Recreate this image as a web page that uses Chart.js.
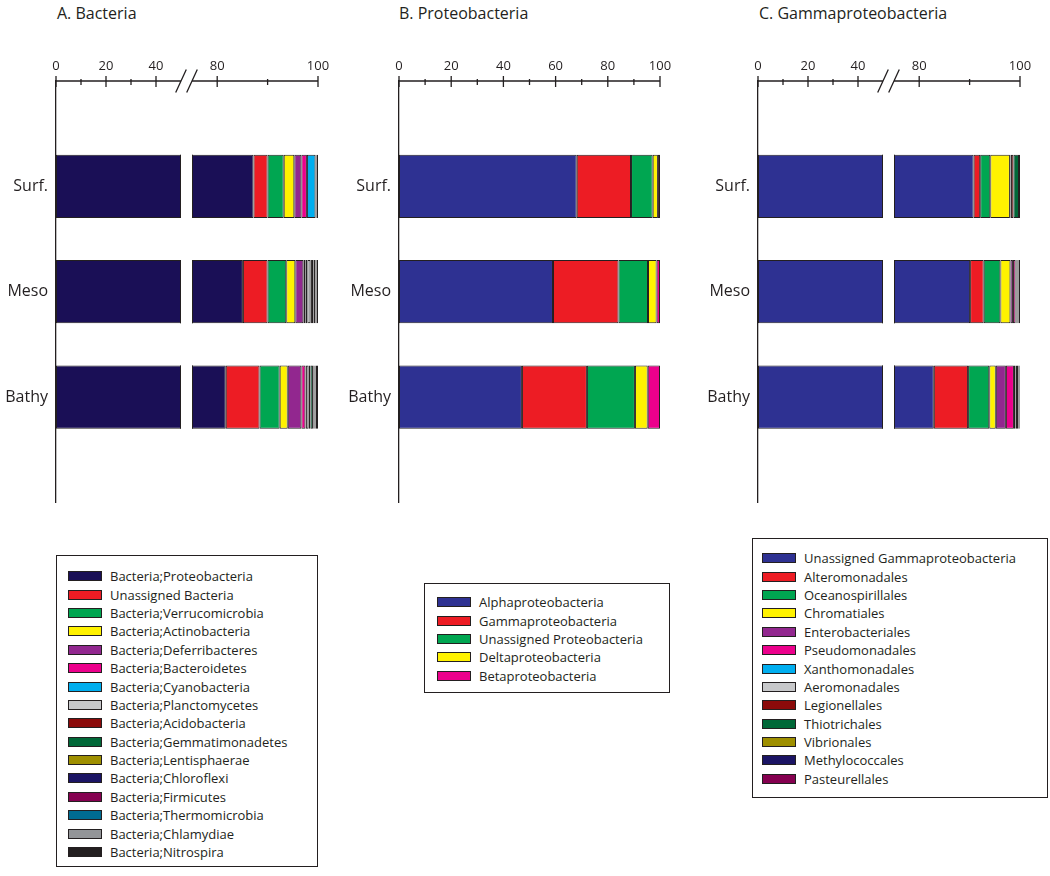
<!DOCTYPE html>
<html>
<head>
<meta charset="utf-8">
<script src="https://cdn.jsdelivr.net/npm/chart.js@4.4.0/dist/chart.umd.min.js"></script>
<style>
  body { margin: 0; background: #fff; font-family: "Open Sans", sans-serif; color: #231f20; }
  #page { position: relative; width: 1050px; height: 876px; overflow: hidden; }
  .title { position: absolute; top: 3px; font-size: 16px; line-height: 20px; white-space: nowrap; }
  canvas { position: absolute; top: 0; }
  .legend { position: absolute; border: 1.3px solid #231f20; box-sizing: border-box; }
  .legend .row { display: flex; align-items: center; height: 18.4px; font-size: 13px; white-space: nowrap; }
  .legend .sw { width: 34px; height: 10px; border: 1px solid #231f20; box-sizing: border-box; margin-right: 8px; flex: none; }
</style>
</head>
<body>
<div id="page">
  <div class="title" style="left:57px">A. Bacteria</div>
  <div class="title" style="left:399px">B. Proteobacteria</div>
  <div class="title" style="left:759px">C. Gammaproteobacteria</div>

  <canvas id="chartA" width="340" height="520" style="left:0px"></canvas>
  <canvas id="chartB" width="360" height="520" style="left:340px"></canvas>
  <canvas id="chartC" width="350" height="520" style="left:700px"></canvas>

  <div class="legend" id="legendA" style="left:56px;top:555px;width:262px;height:312px;padding:11px 0 0 11px"></div>
  <div class="legend" id="legendB" style="left:424px;top:583px;width:246px;height:110px;padding:9px 0 0 12px"></div>
  <div class="legend" id="legendC" style="left:752px;top:538px;width:296px;height:260px;padding:10px 0 0 9px"></div>
</div>

<script>
// depth layers (first and last slot are empty so the bars sit like the original)
const depths = ['', 'Surf.', 'Meso', 'Bathy', ''];

// ticks
const brokenTicks = [0, 10, 20, 30, 40, 80, 90, 100];
const brokenLabels = [0, 20, 40, 80, 100];
const plainTicks = [0, 10, 20, 30, 40, 50, 60, 70, 80, 90, 100];
const plainLabels = [0, 20, 40, 60, 80, 100];

// A. Bacteria (% of reads)
const bacteriaTaxa = ['Bacteria;Proteobacteria', 'Unassigned Bacteria', 'Bacteria;Verrucomicrobia',
  'Bacteria;Actinobacteria', 'Bacteria;Deferribacteres', 'Bacteria;Bacteroidetes', 'Bacteria;Cyanobacteria',
  'Bacteria;Planctomycetes', 'Bacteria;Acidobacteria', 'Bacteria;Gemmatimonadetes', 'Bacteria;Lentisphaerae',
  'Bacteria;Chloroflexi', 'Bacteria;Firmicutes', 'Bacteria;Thermomicrobia', 'Bacteria;Chlamydiae', 'Bacteria;Nitrospira'];
const bacteriaSurf  = [87.2, 2.8, 3.2, 2.1, 1.4, 1.1, 1.7, 0.1, 0.1, 0.1, 0, 0, 0, 0, 0, 0.2];
const bacteriaMeso  = [85.1, 4.9, 3.7, 1.8, 1.6, 0.4, 0.4, 0.6, 0.3, 0.3, 0.1, 0.2, 0.1, 0.1, 0.1, 0.3];
const bacteriaBathy = [81.7, 6.7, 4.0, 1.6, 2.7, 0.8, 0.1, 0.5, 0.4, 0.5, 0.1, 0.2, 0.1, 0.1, 0.1, 0.4];
const bacteriaColors = ['#1a0f56', '#ed1c24', '#00a651', '#fff200', '#92278f', '#ec008c', '#00aeef',
  '#c7c8ca', '#8b0a0a', '#006838', '#9e8f00', '#1b1464', '#850050', '#006c91', '#939598', '#231f20'];

// B. Proteobacteria
const proteoTaxa = ['Alphaproteobacteria', 'Gammaproteobacteria', 'Unassigned Proteobacteria',
  'Deltaproteobacteria', 'Betaproteobacteria'];
const proteoSurf  = [68.1, 20.8, 8.3, 2.0, 0.8];
const proteoMeso  = [59.0, 25.1, 11.3, 3.3, 1.3];
const proteoBathy = [47.1, 24.9, 18.4, 4.9, 4.7];
const proteoColors = ['#2e3192', '#ed1c24', '#00a651', '#fff200', '#ec008c'];

// C. Gammaproteobacteria
const gammaTaxa = ['Unassigned Gammaproteobacteria', 'Alteromonadales', 'Oceanospirillales', 'Chromatiales',
  'Enterobacteriales', 'Pseudomonadales', 'Xanthomonadales', 'Aeromonadales', 'Legionellales',
  'Thiotrichales', 'Vibrionales', 'Methylococcales', 'Pasteurellales'];
const gammaSurf  = [90.8, 1.3, 2.0, 3.9, 0.1, 0.1, 0, 0, 0.5, 1.1, 0, 0.2, 0];
const gammaMeso  = [90.1, 2.7, 3.3, 2.0, 0.5, 0.5, 0, 0, 0.2, 0.2, 0, 0.2, 0.3];
const gammaBathy = [82.9, 6.8, 4.2, 1.3, 2.0, 1.6, 0.3, 0.1, 0.2, 0.2, 0.1, 0.2, 0.1];
const gammaColors = ['#2e3192', '#ed1c24', '#00a651', '#fff200', '#92278f', '#ec008c', '#00aeef',
  '#c7c8ca', '#8b0a0a', '#006838', '#9e8f00', '#1b1464', '#850050'];

const ink = '#231f20';

// linear scale with a compressed break (50..75) like the original figure
class BrokenLinearScale extends Chart.LinearScale {
  _dec(v) {
    const o = this.options, min = this.min, max = this.max;
    if (o.breakFrom == null) return (v - min) / (max - min);
    const f1 = o.leftFrac, f2 = o.gapFrac;
    if (v <= o.breakFrom) return (v - min) / (o.breakFrom - min) * f1;
    if (v >= o.breakTo) return f1 + f2 + (v - o.breakTo) / (max - o.breakTo) * (1 - f1 - f2);
    return f1 + (v - o.breakFrom) / (o.breakTo - o.breakFrom) * f2;
  }
  getPixelForValue(v) {
    if (v === null || v === undefined) return NaN;
    return this.getPixelForDecimal(this._dec(v));
  }
  getValueForPixel(p) {
    const d = this.getDecimalForPixel(p), o = this.options, min = this.min, max = this.max;
    if (o.breakFrom == null) return min + d * (max - min);
    const f1 = o.leftFrac, f2 = o.gapFrac;
    if (d <= f1) return min + d / f1 * (o.breakFrom - min);
    if (d >= f1 + f2) return o.breakTo + (d - f1 - f2) / (1 - f1 - f2) * (max - o.breakTo);
    return o.breakFrom + (d - f1) / f2 * (o.breakTo - o.breakFrom);
  }
}
BrokenLinearScale.id = 'brokenLinear';
BrokenLinearScale.defaults = Chart.LinearScale.defaults;
Chart.register(BrokenLinearScale);

// top axis line, ticks of two lengths, the break slashes and the gap in the bars
const topAxis = {
  id: 'topAxis',
  afterDatasetsDraw(chart, args, opts) {
    const x = chart.scales.x, area = chart.chartArea, ctx = chart.ctx;
    const y0 = area.top;
    const xo = x.options;
    ctx.save();
    ctx.strokeStyle = ink;
    let g1 = null, g2 = null;
    if (xo.breakFrom != null) {
      g1 = x.getPixelForValue(xo.breakFrom);
      g2 = x.getPixelForValue(xo.breakTo);
      ctx.fillStyle = '#fff';
      ctx.fillRect(g1, y0 + 1, g2 - g1, area.bottom - y0);
      ctx.lineWidth = 1;
      const meta = chart.getDatasetMeta(0);
      meta.data.forEach((bar, i) => {
        if (chart.data.datasets[0].data[i] == null) return;
        const t = bar.y - bar.height / 2, b = bar.y + bar.height / 2;
        ctx.beginPath();
        ctx.moveTo(g1 - 0.5, t); ctx.lineTo(g1 - 0.5, b);
        ctx.moveTo(g2 + 0.5, t); ctx.lineTo(g2 + 0.5, b);
        ctx.stroke();
      });
    }
    ctx.lineWidth = 1.3;
    ctx.beginPath();
    if (g1 !== null) {
      ctx.moveTo(area.left, y0); ctx.lineTo(g1, y0);
      ctx.moveTo(g2, y0); ctx.lineTo(area.right, y0);
    } else {
      ctx.moveTo(area.left, y0); ctx.lineTo(area.right, y0);
    }
    opts.ticks.forEach(v => {
      const px = x.getPixelForValue(v);
      if (opts.labels.includes(v)) {
        ctx.moveTo(px, y0 - 5); ctx.lineTo(px, y0 + 6);
      } else {
        ctx.moveTo(px, y0 - 2); ctx.lineTo(px, y0 + 4);
      }
    });
    if (g1 !== null) {
      [g1, g2].forEach(g => {
        ctx.moveTo(g - 5.3, y0 + 11.5); ctx.lineTo(g + 5.3, y0 - 11.5);
      });
    }
    ctx.stroke();
    ctx.restore();
  }
};

function makePanel(id, taxa, colors, surf, meso, bathy, ticks, labels, broken, yWidth, rightPad) {
  const datasets = taxa.map((name, i) => ({
    label: name,
    data: [null, surf[i], meso[i], bathy[i], null],
    backgroundColor: colors[i],
    borderColor: ink,
    borderWidth: 1,
    borderSkipped: false,
    barPercentage: 0.6,
    categoryPercentage: 1
  }));
  const xScale = {
    type: 'brokenLinear',
    position: 'top',
    min: 0,
    max: 100,
    stacked: true,
    grid: { display: false, drawTicks: false },
    border: { display: false },
    afterBuildTicks: s => { s.ticks = ticks.map(v => ({ value: v })); },
    afterFit: s => { s.height = 81; },
    ticks: {
      autoSkip: false,
      maxRotation: 0,
      padding: 7,
      color: ink,
      font: { family: 'Open Sans', size: 13 },
      callback: v => labels.includes(v) ? String(v) : ''
    }
  };
  if (broken) {
    xScale.breakFrom = 50;
    xScale.breakTo = 75;
    xScale.leftFrac = 125 / 262;
    xScale.gapFrac = 11 / 262;
  }
  return new Chart(document.getElementById(id), {
    type: 'bar',
    data: { labels: depths, datasets },
    options: {
      indexAxis: 'y',
      responsive: false,
      animation: false,
      layout: { padding: { left: 0, right: rightPad, top: 0, bottom: 15 } },
      scales: {
        x: xScale,
        y: {
          type: 'category',
          stacked: true,
          offset: false,
          grid: { display: false, drawTicks: false },
          border: { display: true, color: ink, width: 1.3 },
          afterFit: s => { s.width = yWidth; },
          ticks: { padding: 8, color: ink, font: { family: 'Open Sans', size: 16 } }
        }
      },
      plugins: {
        legend: { display: false },
        tooltip: { enabled: false },
        topAxis: { ticks, labels }
      }
    },
    plugins: [topAxis]
  });
}

const chartA = makePanel('chartA', bacteriaTaxa, bacteriaColors, bacteriaSurf, bacteriaMeso, bacteriaBathy,
  brokenTicks, brokenLabels, true, 56, 22);
const chartB = makePanel('chartB', proteoTaxa, proteoColors, proteoSurf, proteoMeso, proteoBathy,
  plainTicks, plainLabels, false, 59, 40);
const chartC = makePanel('chartC', gammaTaxa, gammaColors, gammaSurf, gammaMeso, gammaBathy,
  brokenTicks, brokenLabels, true, 58, 30);

// boxed legends built from the chart datasets
function fillLegend(boxId, chart) {
  const box = document.getElementById(boxId);
  chart.data.datasets.forEach(ds => {
    const row = document.createElement('div');
    row.className = 'row';
    const sw = document.createElement('span');
    sw.className = 'sw';
    sw.style.background = ds.backgroundColor;
    const txt = document.createElement('span');
    txt.textContent = ds.label;
    row.appendChild(sw);
    row.appendChild(txt);
    box.appendChild(row);
  });
}
fillLegend('legendA', chartA);
fillLegend('legendB', chartB);
fillLegend('legendC', chartC);
</script>
</body>
</html>
